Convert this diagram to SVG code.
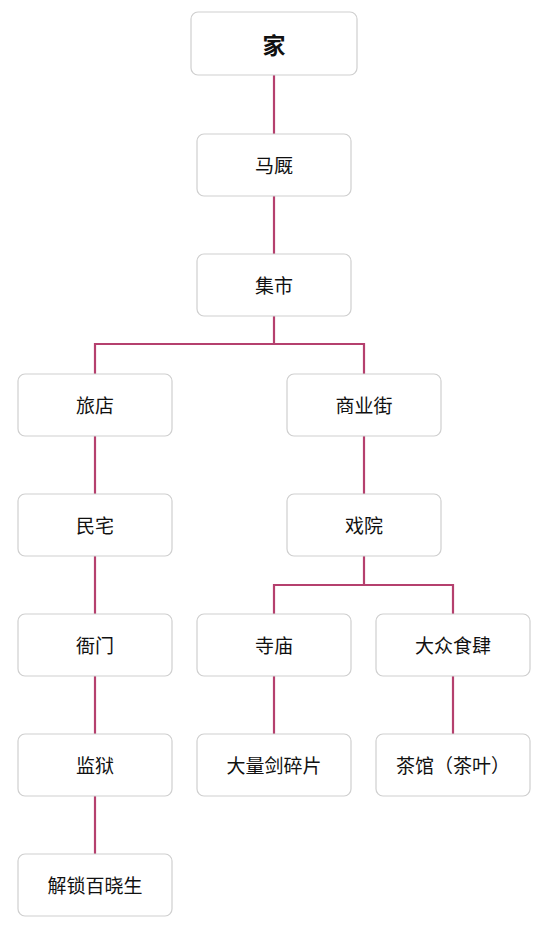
<svg xmlns="http://www.w3.org/2000/svg" width="550" height="931" viewBox="0 0 550 931">
<style>
.box{fill:#fff;stroke:#cfcfcf;stroke-width:1.2}
.t{font-family:"Noto Sans CJK SC","Noto Sans",sans-serif;font-size:19px;fill:#111;text-anchor:middle;dominant-baseline:central}
.b{font-size:23px;font-weight:bold}
.c{fill:none;stroke:#b5406e;stroke-width:2.2}
</style>
<rect width="550" height="931" fill="#fff"/>
<g id="connectors">
<path class="c" d="M274 75V134"/>
<path class="c" d="M274 196V254"/>
<path class="c" d="M274 316V344M95 374V344H364V374"/>
<path class="c" d="M95 436V494"/>
<path class="c" d="M364 436V494"/>
<path class="c" d="M95 556V614"/>
<path class="c" d="M364 556V585M274 614V585H453V614"/>
<path class="c" d="M95 676V734"/>
<path class="c" d="M274 676V734"/>
<path class="c" d="M453 676V734"/>
<path class="c" d="M95 796V854"/>
</g>
<g id="n-jia"><rect class="box" x="191" y="12" width="166" height="63" rx="7"/><text class="t b" x="274" y="44">家</text></g>
<g id="n-majiu"><rect class="box" x="197" y="134" width="154" height="62" rx="7"/><text class="t" x="274" y="164">马厩</text></g>
<g id="n-jishi"><rect class="box" x="197" y="254" width="154" height="62" rx="7"/><text class="t" x="274" y="284">集市</text></g>
<g id="n-lvdian"><rect class="box" x="18" y="374" width="154" height="62" rx="7"/><text class="t" x="95" y="404">旅店</text></g>
<g id="n-shangyejie"><rect class="box" x="287" y="374" width="154" height="62" rx="7"/><text class="t" x="364" y="404">商业街</text></g>
<g id="n-minzhai"><rect class="box" x="18" y="494" width="154" height="62" rx="7"/><text class="t" x="95" y="524">民宅</text></g>
<g id="n-xiyuan"><rect class="box" x="287" y="494" width="154" height="62" rx="7"/><text class="t" x="364" y="524">戏院</text></g>
<g id="n-yamen"><rect class="box" x="18" y="614" width="154" height="62" rx="7"/><text class="t" x="95" y="644">衙门</text></g>
<g id="n-simiao"><rect class="box" x="197" y="614" width="154" height="62" rx="7"/><text class="t" x="274" y="644">寺庙</text></g>
<g id="n-shisi"><rect class="box" x="376" y="614" width="154" height="62" rx="7"/><text class="t" x="453" y="644">大众食肆</text></g>
<g id="n-jianyu"><rect class="box" x="18" y="734" width="154" height="62" rx="7"/><text class="t" x="95" y="764">监狱</text></g>
<g id="n-jian"><rect class="box" x="197" y="734" width="154" height="62" rx="7"/><text class="t" x="274" y="764">大量剑碎片</text></g>
<g id="n-chaguan"><rect class="box" x="376" y="734" width="154" height="62" rx="7"/><text class="t" x="453" y="764">茶馆（茶叶）</text></g>
<g id="n-baixiao"><rect class="box" x="18" y="854" width="154" height="62" rx="7"/><text class="t" x="95" y="884">解锁百晓生</text></g>
</svg>
